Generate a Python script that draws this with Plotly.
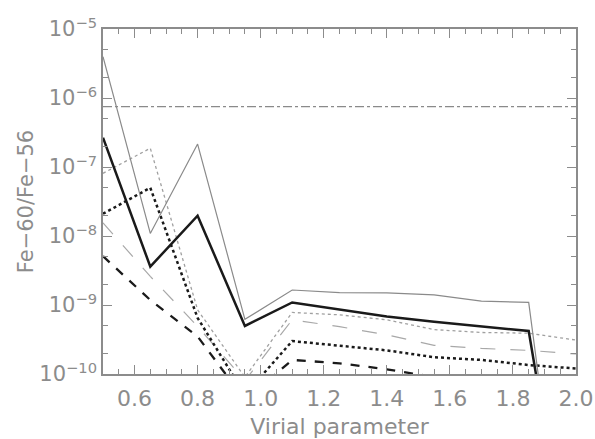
import plotly.graph_objects as go

# Data
virial = [0.5, 0.65, 0.8, 0.95, 1.1, 1.25, 1.4, 1.55, 1.7, 1.85, 2.0]
thin_solid = [3.97e-6, 1.09e-8, 2.15e-7, 6.2e-10, 1.65e-9, 1.51e-9, 1.5e-9, 1.4e-9, 1.14e-9, 1.09e-9, 7e-15]
thick_solid = [2.66e-7, 3.6e-9, 1.97e-8, 4.97e-10, 1.09e-9, 8.7e-10, 6.8e-10, 5.7e-10, 4.85e-10, 4.2e-10, 3.6e-14]
gray_dot = [8.1e-8, 1.87e-7, 8.5e-10, 9e-11, 7.8e-10, 7.2e-10, 6.1e-10, 4.4e-10, 4.0e-10, 3.9e-10, 3.1e-10]
gray_dash = [1.55e-8, 2.6e-9, 4.9e-10, 8e-11, 6.1e-10, 4.85e-10, 3.7e-10, 2.6e-10, 2.35e-10, 2.2e-10, 1.95e-10]
black_dot = [2.1e-8, 5.0e-8, 6.5e-10, 5e-11, 3.0e-10, 2.6e-10, 2.2e-10, 1.75e-10, 1.6e-10, 1.35e-10, 1.2e-10]
black_dash = [5.1e-9, 1.18e-9, 3.5e-10, 4.2e-11, 1.6e-10, 1.43e-10, 1.17e-10, 9e-11, 7e-11, 6e-11, 5e-11]
ref_level = [7.5e-7] * len(virial)

xticks = [0.6, 0.8, 1.0, 1.2, 1.4, 1.6, 1.8, 2.0]
yticks = [1e-10, 1e-9, 1e-8, 1e-7, 1e-6, 1e-5]
ytext = ["10<sup>−10</sup>", "10<sup>−9</sup>", "10<sup>−8</sup>", "10<sup>−7</sup>",
         "10<sup>−6</sup>", "10<sup>−5</sup>"]

AX = "#8c8c8c"
fig = go.Figure()

def add(y, color, width, dash):
    fig.add_trace(go.Scatter(x=virial, y=y, mode="lines",
                             line=dict(color=color, width=width, dash=dash),
                             showlegend=False, hoverinfo="skip"))

add(ref_level, "#8a8a8a", 1.3, "dashdot")
add(gray_dash, "#a8a8a8", 1.2, "longdash")
add(gray_dot, "#a0a0a0", 1.3, "dot")
add(black_dash, "#1a1a1a", 2.3, "dash")
add(black_dot, "#1a1a1a", 2.5, "dot")
add(thin_solid, "#8a8a8a", 1.2, "solid")
add(thick_solid, "#1a1a1a", 2.5, "solid")

font = dict(family="DejaVu Sans", size=21, color=AX)
xfont = dict(family="DejaVu Sans", size=22, color=AX)

fig.update_layout(
    width=595, height=439,
    margin=dict(l=103, r=19, t=29, b=65),
    paper_bgcolor="white", plot_bgcolor="white",
    font=font,
)
fig.update_xaxes(
    range=[0.5, 2.0], tickvals=xticks, ticktext=[f"{v:.1f}" for v in xticks],
    ticks="inside", ticklen=9, tickwidth=1.2, tickcolor=AX,
    minor=dict(ticks="inside", ticklen=5, tickcolor=AX, dtick=0.05, tick0=0.5, showgrid=False),
    showline=True, linecolor=AX, linewidth=1.5, mirror="allticks",
    showgrid=False, zeroline=False, ticklabelstandoff=4, automargin=False,
    title=dict(text="Virial parameter", font=xfont, standoff=10),
    tickfont=xfont,
)
fig.update_yaxes(
    type="log", range=[-10, -5], tickvals=yticks, ticktext=ytext,
    ticks="inside", ticklen=9, tickwidth=1.2, tickcolor=AX,
    minor=dict(ticks="inside", ticklen=5, tickcolor=AX, showgrid=False),
    showline=True, linecolor=AX, linewidth=1.5, mirror="allticks",
    showgrid=False, zeroline=False, automargin=False,
    title=dict(text="Fe−60/Fe−56", font=font, standoff=0),
    tickfont=font,
)

fig.write_html("out.html")
